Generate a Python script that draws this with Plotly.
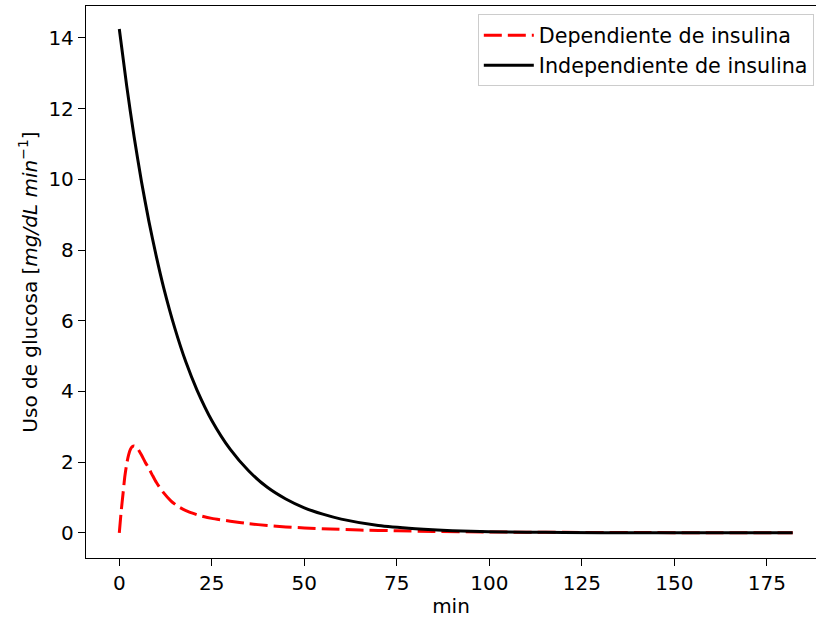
import plotly.graph_objects as go

# Insulin-independent glucose use (black solid)
t_indep = [0, 2, 4, 6, 8, 10, 12, 15, 18, 21, 25, 30, 35, 40, 45, 50, 55, 60, 70,
           80, 90, 100, 110, 120, 140, 160, 182]
u_indep = [14.25, 12.64, 11.20, 9.93, 8.81, 7.82, 6.93, 5.79, 4.83, 4.04, 3.18,
           2.36, 1.75, 1.29, 0.96, 0.71, 0.53, 0.39, 0.21, 0.12, 0.064, 0.035,
           0.02, 0.011, 0.004, 0.002, 0.001]

# Insulin-dependent glucose use (red dashed)
t_dep = [0, 0.5, 1, 1.5, 2, 2.5, 3, 3.5, 4, 4.5, 5, 6, 7, 8, 9, 10, 12, 14, 16,
         18, 20, 22, 25, 30, 35, 40, 45, 50, 57, 65, 75, 85, 100, 120, 140, 160, 182]
u_dep = [0, 0.6, 1.1, 1.6, 1.95, 2.2, 2.36, 2.44, 2.46, 2.44, 2.38, 2.2, 2.0, 1.82,
         1.62, 1.43, 1.13, 0.9, 0.74, 0.63, 0.55, 0.48, 0.41, 0.33, 0.26, 0.21,
         0.17, 0.14, 0.11, 0.08, 0.06, 0.04, 0.025, 0.015, 0.01, 0.005, 0.003]

x_ticks = [0, 25, 50, 75, 100, 125, 150, 175]
y_ticks = [0, 2, 4, 6, 8, 10, 12, 14]

FONT = "DejaVu Sans"
FS = 20

fig = go.Figure()
fig.add_trace(go.Scatter(
    x=t_dep, y=u_dep, mode="lines", name="Dependiente de insulina",
    line=dict(color="#ff0000", width=3, dash="18px,6px", shape="spline", smoothing=0.6),
))
fig.add_trace(go.Scatter(
    x=t_indep, y=u_indep, mode="lines", name="Independiente de insulina",
    line=dict(color="#000000", width=3, shape="spline", smoothing=0.6),
))

axis_common = dict(
    showgrid=False, zeroline=False, showline=True, linecolor="black", linewidth=1.3,
    ticks="outside", ticklen=7, tickwidth=1.3, tickcolor="black",
    tickfont=dict(family=FONT, size=FS, color="black"),
)

fig.update_layout(
    width=816, height=622,
    margin=dict(l=86, r=0, t=6, b=64),
    paper_bgcolor="white", plot_bgcolor="white",
    font=dict(family=FONT, size=FS, color="black"),
    xaxis=dict(**axis_common, range=[-9.0, 188.3], tickvals=x_ticks, mirror=True,
               title=dict(text="min", font=dict(family=FONT, size=FS), standoff=4)),
    yaxis=dict(**axis_common, range=[-0.71, 14.9], tickvals=y_ticks,
               title=dict(text="Uso de glucosa [<i>mg/dL min</i><sup>−1</sup>]",
                          font=dict(family=FONT, size=FS), standoff=5)),
    legend=dict(x=0.997, y=0.985, xanchor="right", yanchor="top",
                bgcolor="white", bordercolor="#cccccc", borderwidth=1,
                font=dict(family=FONT, size=20.7, color="black"),
                itemwidth=50, tracegroupgap=0),
    showlegend=True,
)

fig.write_html("out.html")
